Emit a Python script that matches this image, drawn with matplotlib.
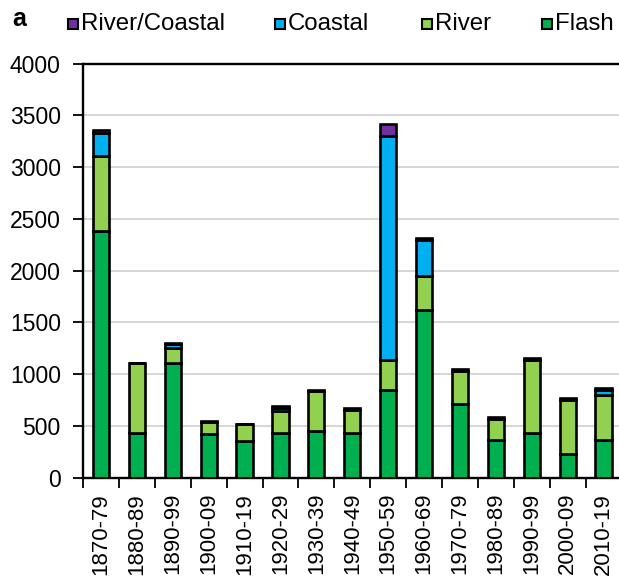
import matplotlib
matplotlib.use("Agg")
import matplotlib.pyplot as plt
from matplotlib.patches import Rectangle
import numpy as np

plt.rcParams['font.family'] = ['Liberation Sans', 'DejaVu Sans']

decades = ['1870-79', '1880-89', '1890-99', '1900-09', '1910-19', '1920-29',
           '1930-39', '1940-49', '1950-59', '1960-69', '1970-79', '1980-89',
           '1990-99', '2000-09', '2010-19']
flash = [2380, 432, 1110, 422, 358, 430, 455, 428, 848, 1622, 710, 367, 432, 229, 364]
river = [725, 680, 145, 113, 157, 215, 380, 225, 290, 322, 325, 198, 703, 519, 436]
coastal = [230, 0, 40, 0, 0, 30, 0, 0, 2160, 355, 0, 0, 0, 0, 50]
river_coastal = [20, 0, 5, 8, 8, 15, 15, 20, 122, 15, 20, 20, 25, 25, 15]

series_names = ['River/Coastal', 'Coastal', 'River', 'Flash']
colors = {'Flash': '#00B050', 'River': '#92D050', 'Coastal': '#00B0F0',
          'River/Coastal': '#7030A0'}

fig = plt.figure(figsize=(6.19, 5.8), dpi=100)
ax = fig.add_axes([83/619, (580-477.7)/580, 538.5/619, (477.7-63.7)/580])

x = np.arange(len(decades))
w = 0.45
bottom = np.zeros(len(decades))
for name, vals in [('Flash', flash), ('River', river), ('Coastal', coastal),
                   ('River/Coastal', river_coastal)]:
    vals = np.array(vals, dtype=float)
    ax.bar(x, vals, w, bottom=bottom, color=colors[name], edgecolor='black',
           linewidth=1.9, zorder=3)
    bottom += vals

ax.set_xlim(-0.5, len(decades) - 0.5)
ax.set_ylim(0, 4000)
ax.set_yticks(np.arange(0, 4001, 500))
ax.yaxis.grid(True, color='#d0d0d0', linewidth=1.2, zorder=0)
ax.set_axisbelow(True)

ax.set_xticks(x)
ax.set_xticklabels(decades, rotation=90)
ax.set_xticks(np.arange(-0.5, len(decades), 1.0), minor=True)
ax.tick_params(axis='x', which='major', length=0, pad=11, labelsize=16)
ax.tick_params(axis='x', which='minor', length=7, width=1.3, direction='out')
ax.tick_params(axis='y', length=7, width=1.3, direction='out', pad=9, labelsize=16.5)

for s in ['left', 'bottom', 'top', 'right']:
    ax.spines[s].set_linewidth(1.7)
    ax.spines[s].set_color('black')

# Panel letter
fig.text(12/619, 1 - 19/580, 'a', fontsize=18, fontweight='bold', va='center', ha='left')

# Legend (manual placement)
leg_x = [68, 275, 422, 542]
yc = 1 - 24/580
sq = 10
for name, lx in zip(series_names, leg_x):
    fig.patches.append(Rectangle((lx/619, yc - (sq/2)/580), sq/619, sq/580,
                                 transform=fig.transFigure, facecolor=colors[name],
                                 edgecolor='black', linewidth=1.5))
    fig.text((lx + sq + 3)/619, yc, name, fontsize=17.3, va='center', ha='left')

fig.savefig('out.png', dpi=100)
